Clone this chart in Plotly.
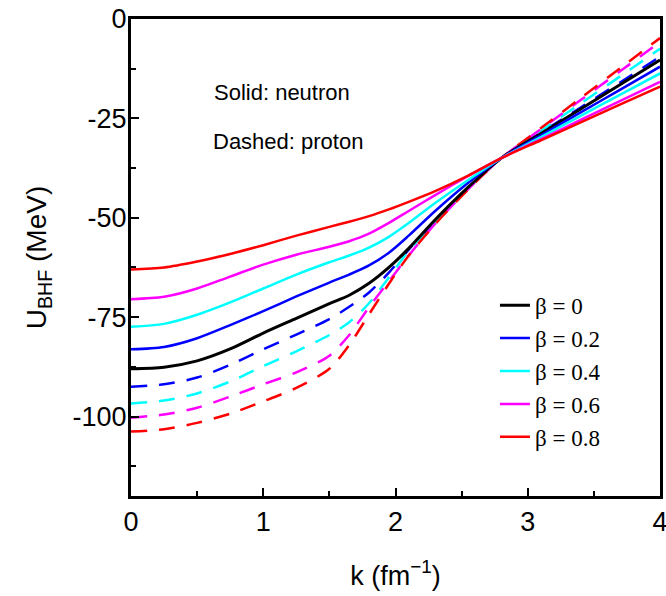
import plotly.graph_objects as go

# ---- data ----
k = [0, 0.25, 0.5, 0.75, 1.0, 1.25, 1.5, 1.65, 1.8, 1.95, 2.1, 2.3, 2.55, 2.8,
     3.1, 3.4, 3.7, 4.0]

beta_labels = ["β = 0", "β = 0.2", "β = 0.4", "β = 0.6", "β = 0.8"]
colors = ["#000000", "#0000FF", "#00FFFF", "#FF00FF", "#FF0000"]

# Solid: neutron
n_b00 = [-88.0, -87.6, -86.0, -83.0, -79.0, -75.3, -71.6, -69.5, -66.5, -62.5, -57.7, -50.5, -42.3, -35.0,
         -28.8, -22.65, -16.5, -10.3]
n_b02 = [-83.1, -82.5, -80.3, -77.0, -73.5, -69.8, -66.3, -64.3, -62.0, -58.8, -54.5, -48.3, -41.2, -35.0,
         -29.25, -23.5, -17.75, -12.0]
n_b04 = [-77.4, -76.7, -74.4, -71.3, -67.8, -64.3, -61.2, -59.5, -57.5, -54.8, -51.3, -46.3, -40.5, -35.0,
         -29.7, -24.35, -19.0, -13.7]
n_b06 = [-70.5, -69.9, -67.8, -64.8, -61.8, -59.3, -57.3, -55.9, -54.0, -51.3, -48.3, -44.3, -39.5, -35.0,
         -30.2, -25.4, -20.6, -15.8]
n_b08 = [-63.0, -62.5, -61.0, -59.1, -56.9, -54.5, -52.3, -51.0, -49.6, -47.9, -46.0, -43.3, -39.4, -35.0,
         -30.5, -26.0, -21.5, -17.0]

# Dashed: proton
p_b02 = [-92.5, -91.9, -90.2, -87.0, -83.1, -79.4, -75.5, -72.4, -68.8, -63.8, -58.0, -50.8, -42.5, -35.0,
         -28.6, -22.25, -15.9, -9.5]
p_b04 = [-96.7, -96.0, -94.2, -91.2, -87.3, -83.6, -79.5, -76.3, -71.5, -65.0, -58.3, -51.0, -42.6, -35.0,
         -28.1, -21.25, -14.4, -7.5]
p_b06 = [-100.3, -99.5, -97.8, -95.0, -91.9, -88.9, -84.7, -79.5, -72.5, -66.0, -59.5, -51.5, -42.8, -35.0,
         -27.7, -20.4, -13.1, -5.8]
p_b08 = [-103.8, -103.2, -101.6, -99.3, -96.2, -92.8, -88.0, -82.0, -74.3, -66.6, -59.5, -51.6, -42.9, -35.0,
         -27.45, -19.9, -12.35, -4.8]

neutron = [n_b00, n_b02, n_b04, n_b06, n_b08]
proton = [None, p_b02, p_b04, p_b06, p_b08]

y_tickvals = [0, -25, -50, -75, -100]
y_ticktext = ["0", "-25", "-50", "-75", "-100"]
x_tickvals = [0, 1, 2, 3, 4]
x_ticktext = ["0", "1", "2", "3", "4"]

# ---- figure ----
fig = go.Figure()

# dashed proton curves first (drawn under the solid ones)
for lab, col, ys in zip(beta_labels, colors, proton):
    if ys is None:
        continue
    fig.add_trace(go.Scatter(x=k, y=ys, mode="lines", showlegend=False,
                             line=dict(color=col, width=2.5, dash="16px,12px",
                                       shape="spline", smoothing=0.8)))

for lab, col, ys in zip(beta_labels, colors, neutron):
    fig.add_trace(go.Scatter(x=k, y=ys, mode="lines", name=lab,
                             line=dict(color=col, width=3 if col == "#000000" else 2.5,
                                       shape="spline", smoothing=0.8)))

axis_font = dict(family="Liberation Sans, Arial, sans-serif", size=27, color="black")

fig.update_xaxes(range=[0, 4], tickvals=x_tickvals, ticktext=x_ticktext,
                 ticks="inside", ticklen=8, tickwidth=2, tickcolor="black",
                 ticklabeloverflow="allow",
                 minor=dict(ticks="inside", ticklen=5, tickwidth=2, dtick=0.5, tick0=0,
                            tickcolor="black"),
                 showline=True, linewidth=3, linecolor="black", mirror=True,
                 showgrid=False, zeroline=False, tickfont=axis_font,
                 title=dict(text="k (fm<sup>−1</sup>)", font=axis_font, standoff=30))

fig.update_yaxes(range=[-120, 0], tickvals=y_tickvals, ticktext=y_ticktext,
                 ticks="inside", ticklen=8, tickwidth=2, tickcolor="black",
                 ticklabeloverflow="allow", ticklabelstandoff=-4,
                 minor=dict(ticks="inside", ticklen=5, tickwidth=2, dtick=12.5, tick0=0,
                            tickcolor="black"),
                 showline=True, linewidth=3, linecolor="black", mirror=True,
                 showgrid=False, zeroline=False, tickfont=axis_font,
                 title=dict(text="U<sub>BHF</sub> (MeV)",
                            font=dict(family="Liberation Sans, Arial, sans-serif",
                                      size=28, color="black"), standoff=18))

note_font = dict(family="Liberation Sans, Arial, sans-serif", size=22, color="black")
fig.add_annotation(x=0.154, y=0.846, xref="paper", yref="paper", xanchor="left",
                   yanchor="middle", text="Solid: neutron", showarrow=False, font=note_font)
fig.add_annotation(x=0.152, y=0.744, xref="paper", yref="paper", xanchor="left",
                   yanchor="middle", text="Dashed: proton", showarrow=False, font=note_font)

fig.update_layout(
    width=666, height=596,
    margin=dict(l=131, r=6, t=19, b=100, autoexpand=False),
    paper_bgcolor="white", plot_bgcolor="white",
    showlegend=True,
    legend=dict(x=0.688, y=0.445, xanchor="left", yanchor="top",
                bgcolor="rgba(0,0,0,0)", borderwidth=0,
                font=dict(family="Liberation Serif, Times New Roman, serif",
                          size=23, color="black")),
)

fig.write_html("out.html")
